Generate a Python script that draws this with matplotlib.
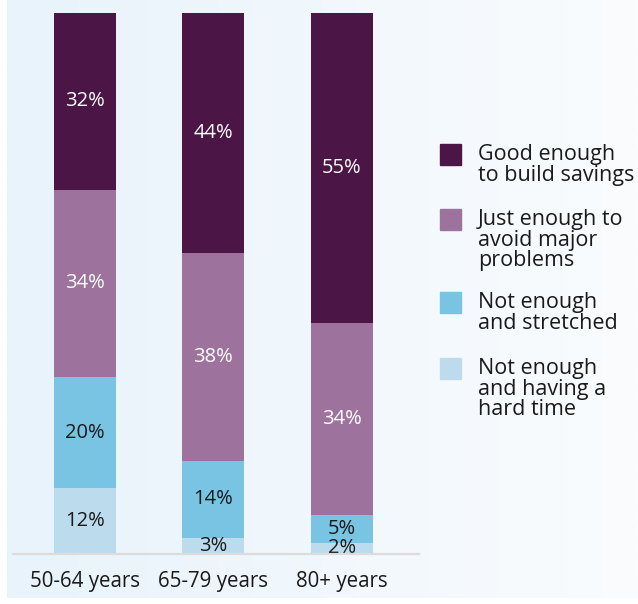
import numpy as np
import matplotlib
matplotlib.use("Agg")
import matplotlib.pyplot as plt
from matplotlib.patches import Rectangle

plt.rcParams['font.family'] = ['Open Sans', 'DejaVu Sans']

groups = ['50-64 years', '65-79 years', '80+ years']
categories = ['Good enough\nto build savings',
              'Just enough to\navoid major\nproblems',
              'Not enough\nand stretched',
              'Not enough\nand having a\nhard time']
# values per category, one per age group
good = [32, 44, 55]
just = [34, 38, 34]
stretched = [20, 14, 5]
hard = [12, 3, 2]

colors = ['#4b1545', '#9d729d', '#79c3e3', '#bcdcee']
text_colors = ['white', 'white', '#1a1a1a', '#1a1a1a']

fig = plt.figure(figsize=(6.38, 6.04), dpi=100)

# background gradient
bg = fig.add_axes([7/638, 6/604, 1 - 7/638, 1 - 6/604], zorder=-10)
grad = np.linspace(0, 1, 256).reshape(1, -1)
c0 = np.array([0xe8, 0xf3, 0xfb]) / 255
c1 = np.array([0xfa, 0xfc, 0xfe]) / 255
img = c0[None, None, :] * (1 - grad[..., None]) + c1[None, None, :] * grad[..., None]
bg.imshow(img, aspect='auto', extent=[0, 1, 0, 1])
bg.axis('off')

ax = fig.add_axes([13/638, 50/604, (419-13)/638, (554-13)/604])
ax.patch.set_alpha(0)

stack = np.array([hard, stretched, just, good], dtype=float)
totals = stack.sum(axis=0)
shares = stack / totals
x = np.arange(len(groups))
bottom = np.zeros(len(groups))
order_colors = colors[::-1]
order_text = text_colors[::-1]
for i in range(4):
    ax.bar(x, shares[i], width=0.482, bottom=bottom, color=order_colors[i], zorder=2)
    for j in range(len(groups)):
        ax.text(x[j], bottom[j] + shares[i][j] / 2, f'{int(stack[i][j])}%',
                ha='center', va='center', fontsize=14.5, color=order_text[i], zorder=3)
    bottom += shares[i]

ax.set_xlim(-0.56, 2.60)
ax.set_ylim(0, 1)
for s in ['top', 'right', 'left']:
    ax.spines[s].set_visible(False)
ax.spines['bottom'].set_color('#dcdcdc')
ax.spines['bottom'].set_linewidth(1.6)
ax.spines['bottom'].set_zorder(4)
ax.set_yticks([])
ax.set_xticks(x)
ax.set_xticklabels(groups, fontsize=14.8, color='#1a1a1a')
ax.tick_params(axis='x', length=0, pad=12.5)

# legend
leg_y = [154, 219, 302, 368]
for k, (lab, col) in enumerate(zip(categories, colors)):
    yc = 1 - leg_y[k] / 604
    fig.patches.append(Rectangle((440/638, yc - 10.5/604), 21/638, 21/604,
                                 transform=fig.transFigure, color=col))
    fig.text(478/638, 1 - 144/604 - (leg_y[k] - 154)/604, lab, ha='left', va='top',
             fontsize=15.5, color='#1a1a1a', linespacing=0.98)

fig.savefig('out.png', dpi=100)
